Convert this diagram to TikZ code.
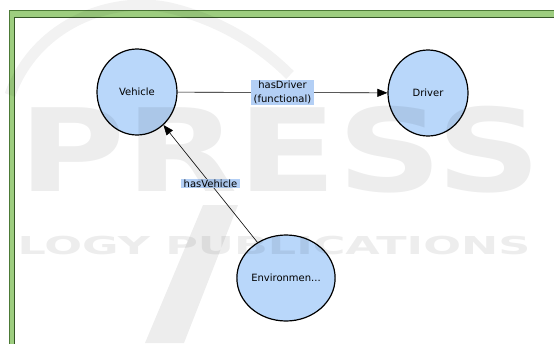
\documentclass[tikz,border=0pt]{standalone}
\usepackage{fontspec}
\setmainfont{DejaVu Sans}
\usepackage{xcolor}
\usetikzlibrary{arrows.meta, shapes.geometric, positioning}

\definecolor{classblue}{HTML}{B9D7FA}
\definecolor{labelblue}{HTML}{B3CFF5}
\definecolor{framegreen}{HTML}{9DCD7F}
\definecolor{framedark}{HTML}{4C7A36}

\begin{document}
\begin{tikzpicture}[x=1pt, y=-1pt,
    class/.style={ellipse, draw=black, line width=1.2pt, fill=classblue,
        minimum width=80pt, minimum height=86pt, inner sep=0pt,
        font=\fontsize{10}{13.5}\selectfont},
    relation/.style={-{Triangle[length=10pt, width=8pt]}, line width=0.6pt},
    rellabel/.style={fill=labelblue, inner xsep=2.5pt, inner ysep=0.8pt,
        align=center, font=\fontsize{10}{13.5}\selectfont},
    watermark/.style={black, opacity=0.07}]
    \useasboundingbox (0,0) rectangle (554,343);
    \clip (0,0) rectangle (554,343);
    % frame
    \draw[draw=framedark, fill=framegreen, line width=0.8pt] (9,10) rectangle (580,380);
    \draw[draw=framedark!70!black, fill=white, line width=0.6pt] (14.5,17) rectangle (580,380);
    % classes
    \node[class] (vehicle) at (137,92) {Vehicle};
    \node[class] (driver) at (428,93) {Driver};
    \node[class] (environment) at (286,278) {Environmen...};
    % properties
    \draw[relation] (vehicle) -- (driver) node[rellabel, midway] {hasDriver\\(functional)};
    \draw[relation] (environment) -- (vehicle) node[rellabel, midway] {hasVehicle};
    % logo in the background
    \draw[watermark, opacity=0.05, line width=11pt] (10,95) .. controls (35,25) and (110,-5) .. (170,8)
        .. controls (220,20) and (260,45) .. (290,75);
    \fill[watermark] (145,343) -- (184,343) -- (238,205) -- (203,205) -- cycle;
    \node[watermark, font=\bfseries\fontsize{115}{115}\selectfont, xscale=1.27] (press) at (280,150) {PRESS};
    \node[watermark, font=\bfseries\fontsize{24.7}{25}\selectfont, xscale=1.8] (publications) at (274,246) {LOGY PUBLICATIONS};
\end{tikzpicture}
\end{document}
